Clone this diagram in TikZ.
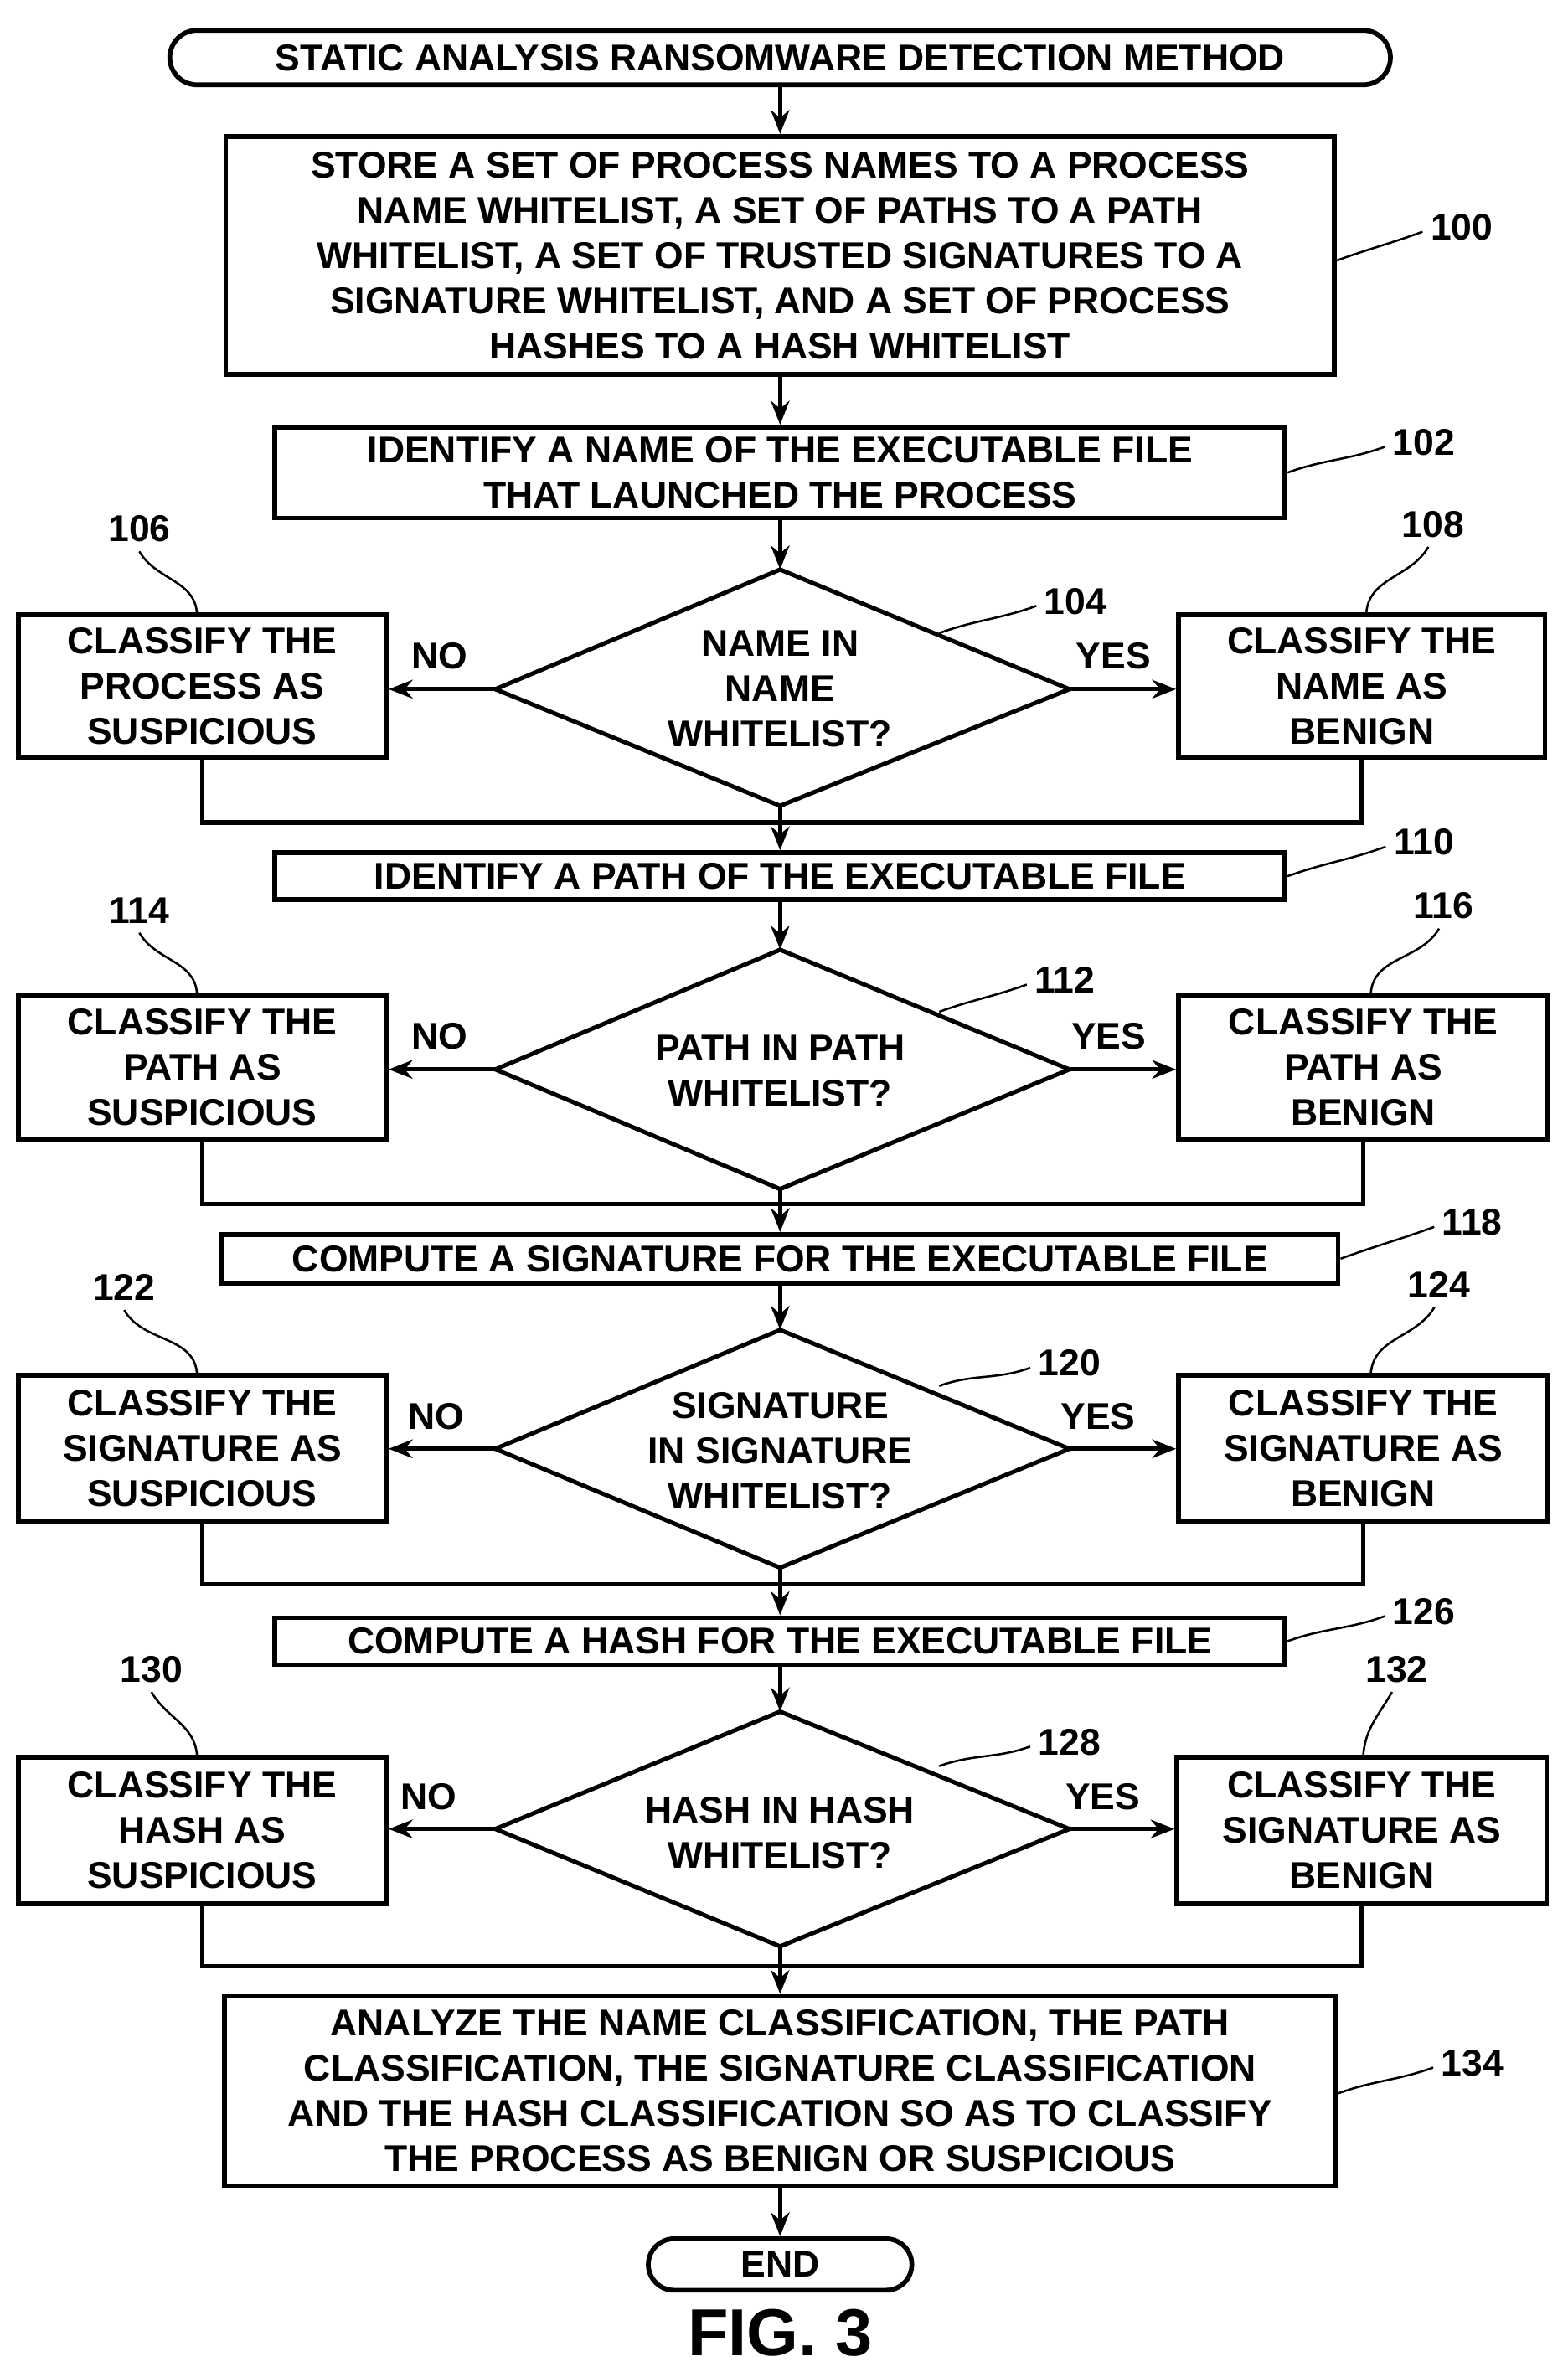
\documentclass[tikz,border=0pt]{standalone}
\usepackage{fontspec}
\setmainfont{Liberation Sans}
\usetikzlibrary{arrows.meta,calc}
\begin{document}
\begin{tikzpicture}[x=0.02cm,y=-0.02cm,
  every node/.style={font=\bfseries\fontsize{14}{17}\selectfont, align=center, inner sep=0pt},
  box/.style={draw, line width=1.8pt, rectangle},
  ln/.style={line width=1.6pt},
  arr/.style={line width=1.6pt, -{Stealth[length=9pt,width=7pt]}},
  ld/.style={line width=0.8pt},
  lab/.style={font=\bfseries\fontsize{14}{17}\selectfont}]
\useasboundingbox (0,0) rectangle (1035,1566);
% start
\node[draw, line width=1.8pt, rounded corners=0.36cm, minimum width=16.12cm, minimum height=0.72cm] (start) at (515,38) {STATIC ANALYSIS RANSOMWARE DETECTION METHOD};
\node[box, minimum width=14.64cm, minimum height=3.14cm] (b100) at (515,168.5) {STORE A SET OF PROCESS NAMES TO A PROCESS\\NAME WHITELIST, A SET OF PATHS TO A PATH\\WHITELIST, A SET OF TRUSTED SIGNATURES TO A\\SIGNATURE WHITELIST, AND A SET OF PROCESS\\HASHES TO A HASH WHITELIST};
\node[box, minimum width=13.34cm, minimum height=1.2cm] (b102) at (515,312) {IDENTIFY A NAME OF THE EXECUTABLE FILE\\THAT LAUNCHED THE PROCESS};
% diamond 104
\coordinate (d104t) at (515,376); \coordinate (d104r) at (706,455);
\coordinate (d104b) at (515,532); \coordinate (d104l) at (327,455);
\draw[ln] (d104t) -- (d104r) -- (d104b) -- (d104l) -- cycle;
\node (t104) at (515,455) {NAME IN\\NAME\\WHITELIST?};
\node[box, minimum width=4.86cm, minimum height=1.88cm] (b106) at (133.5,453) {CLASSIFY THE\\PROCESS AS\\SUSPICIOUS};
\node[box, minimum width=4.84cm, minimum height=1.88cm] (b108) at (899,453) {CLASSIFY THE\\NAME AS\\BENIGN};
\node (no1) at (290,433) {NO}; \node (yes1) at (735,433) {YES};
\node[box, minimum width=13.34cm, minimum height=0.62cm] (b110) at (515,578.5) {IDENTIFY A PATH OF THE EXECUTABLE FILE};
% diamond 112
\coordinate (d112t) at (515,627); \coordinate (d112r) at (706,706);
\coordinate (d112b) at (515,785); \coordinate (d112l) at (327,706);
\draw[ln] (d112t) -- (d112r) -- (d112b) -- (d112l) -- cycle;
\node (t112) at (515,707) {PATH IN PATH\\WHITELIST?};
\node[box, minimum width=4.86cm, minimum height=1.9cm] (b114) at (133.5,704.5) {CLASSIFY THE\\PATH AS\\SUSPICIOUS};
\node[box, minimum width=4.88cm, minimum height=1.9cm] (b116) at (900,704.5) {CLASSIFY THE\\PATH AS\\BENIGN};
\node (no2) at (290,684) {NO}; \node (yes2) at (732,684) {YES};
\node[box, minimum width=14.74cm, minimum height=0.64cm] (b118) at (515,831) {COMPUTE A SIGNATURE FOR THE EXECUTABLE FILE};
% diamond 120
\coordinate (d120t) at (515,878); \coordinate (d120r) at (706,956.5);
\coordinate (d120b) at (515,1035); \coordinate (d120l) at (327,956.5);
\draw[ln] (d120t) -- (d120r) -- (d120b) -- (d120l) -- cycle;
\node (t120) at (515,958) {SIGNATURE\\IN SIGNATURE\\WHITELIST?};
\node[box, minimum width=4.86cm, minimum height=1.92cm] (b122) at (133.5,956) {CLASSIFY THE\\SIGNATURE AS\\SUSPICIOUS};
\node[box, minimum width=4.88cm, minimum height=1.92cm] (b124) at (900,956) {CLASSIFY THE\\SIGNATURE AS\\BENIGN};
\node (no3) at (288,935) {NO}; \node (yes3) at (725,935) {YES};
\node[box, minimum width=13.34cm, minimum height=0.62cm] (b126) at (515,1083.5) {COMPUTE A HASH FOR THE EXECUTABLE FILE};
% diamond 128
\coordinate (d128t) at (515,1130); \coordinate (d128r) at (706,1207.5);
\coordinate (d128b) at (515,1285); \coordinate (d128l) at (327,1207.5);
\draw[ln] (d128t) -- (d128r) -- (d128b) -- (d128l) -- cycle;
\node (t128) at (515,1210) {HASH IN HASH\\WHITELIST?};
\node[box, minimum width=4.86cm, minimum height=1.94cm] (b130) at (133.5,1208.5) {CLASSIFY THE\\HASH AS\\SUSPICIOUS};
\node[box, minimum width=4.88cm, minimum height=1.94cm] (b132) at (899,1208.5) {CLASSIFY THE\\SIGNATURE AS\\BENIGN};
\node (no4) at (283,1186) {NO}; \node (yes4) at (728,1186) {YES};
\node[box, minimum width=14.68cm, minimum height=2.5cm] (b134) at (515,1380.5) {ANALYZE THE NAME CLASSIFICATION, THE PATH\\CLASSIFICATION, THE SIGNATURE CLASSIFICATION\\AND THE HASH CLASSIFICATION SO AS TO CLASSIFY\\THE PROCESS AS BENIGN OR SUSPICIOUS};
\node[draw, line width=1.8pt, rounded corners=0.34cm, minimum width=3.48cm, minimum height=0.68cm] (end) at (515,1495) {END};
\node[font=\bfseries\fontsize{25}{28}\selectfont] (fig) at (515,1540) {FIG. 3};
% flow
\draw[arr] (start) -- (b100);
\draw[arr] (b100) -- (b102);
\draw[arr] (b102) -- (d104t);
\draw[arr] (d104l) -- (b106.east|-d104l);
\draw[arr] (d104r) -- (b108.west|-d104r);
\draw[arr] (d104b) -- (b110);
\coordinate (m1) at (515,543);
\draw[ln] (b106.south) |- (m1) -| (b108.south);
\draw[arr] (b110) -- (d112t);
\draw[arr] (d112l) -- (b114.east|-d112l);
\draw[arr] (d112r) -- (b116.west|-d112r);
\draw[arr] (d112b) -- (b118);
\coordinate (m2) at (515,795);
\draw[ln] (b114.south) |- (m2) -| (b116.south);
\draw[arr] (b118) -- (d120t);
\draw[arr] (d120l) -- (b122.east|-d120l);
\draw[arr] (d120r) -- (b124.west|-d120r);
\draw[arr] (d120b) -- (b126);
\coordinate (m3) at (515,1046);
\draw[ln] (b122.south) |- (m3) -| (b124.south);
\draw[arr] (b126) -- (d128t);
\draw[arr] (d128l) -- (b130.east|-d128l);
\draw[arr] (d128r) -- (b132.west|-d128r);
\draw[arr] (d128b) -- (b134);
\coordinate (m4) at (515,1298);
\draw[ln] (b130.south) |- (m4) -| (b132.south);
\draw[arr] (b134) -- (end);
% reference labels
\node[lab] (l100) at (965,150) {100};
\node[lab] (l102) at (940,292) {102};
\node[lab] (l104) at (710,397) {104};
\node[lab] (l106) at (92,349) {106};
\node[lab] (l108) at (946,346) {108};
\node[lab] (l110) at (940,556) {110};
\node[lab] (l112) at (703,647) {112};
\node[lab] (l114) at (92,601) {114};
\node[lab] (l116) at (953,598) {116};
\node[lab] (l118) at (972,807) {118};
\node[lab] (l120) at (706,900) {120};
\node[lab] (l122) at (82,850) {122};
\node[lab] (l124) at (950,848) {124};
\node[lab] (l126) at (940,1064) {126};
\node[lab] (l128) at (706,1150) {128};
\node[lab] (l130) at (100,1102) {130};
\node[lab] (l132) at (922,1102) {132};
\node[lab] (l134) at (972,1362) {134};
% leaders (horizontal)
\draw[ld] (b100.east|-0,172) to[out=20,in=200] ($(l100.west)+(-5,3)$);
\draw[ld] (b102.east) to[out=20,in=200] ($(l102.west)+(-5,3)$);
\draw[ld] (620,418) to[out=20,in=200] ($(l104.west)+(-5,3)$);
\draw[ld] (b110.east) to[out=20,in=200] ($(l110.west)+(-5,3)$);
\draw[ld] (620,668) to[out=20,in=200] ($(l112.west)+(-5,3)$);
\draw[ld] (b118.east) to[out=20,in=200] ($(l118.west)+(-5,3)$);
\draw[ld] (620,915) to[out=20,in=200] ($(l120.west)+(-5,3)$);
\draw[ld] (b126.east) to[out=20,in=200] ($(l126.west)+(-5,3)$);
\draw[ld] (620,1166) to[out=20,in=200] ($(l128.west)+(-5,3)$);
\draw[ld] (b134.east|-0,1382) to[out=20,in=200] ($(l134.west)+(-5,3)$);
% leaders (vertical)
\draw[ld] (b106.north-|130,0) to[out=95,in=-60] ($(l106.south)+(0,6)$);
\draw[ld] (b108.north-|902,0) to[out=85,in=-120] ($(l108.south)+(-3,6)$);
\draw[ld] (b114.north-|130,0) to[out=95,in=-60] ($(l114.south)+(0,6)$);
\draw[ld] (b116.north-|905,0) to[out=85,in=-120] ($(l116.south)+(-3,6)$);
\draw[ld] (b122.north-|130,0) to[out=95,in=-60] ($(l122.south)+(0,6)$);
\draw[ld] (b124.north-|905,0) to[out=85,in=-120] ($(l124.south)+(-3,6)$);
\draw[ld] (b130.north-|130,0) to[out=95,in=-60] ($(l130.south)+(0,6)$);
\draw[ld] (b132.north-|900,0) to[out=85,in=-120] ($(l132.south)+(-3,6)$);
\end{tikzpicture}
\end{document}
